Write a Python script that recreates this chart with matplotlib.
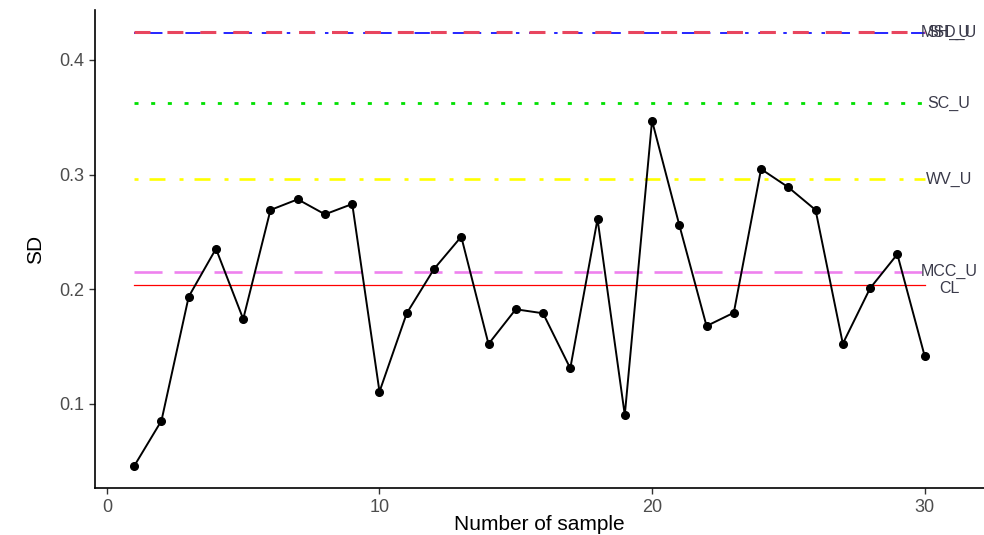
import matplotlib
matplotlib.use("Agg")
import matplotlib.pyplot as plt

plt.rcParams['font.family'] = ['Liberation Sans', 'DejaVu Sans']
plt.rcParams['lines.scale_dashes'] = False

samples = list(range(1, 31))
sd_values = [0.0459, 0.0854, 0.1936, 0.2354, 0.1741, 0.2692, 0.2785, 0.2654, 0.2744, 0.1107,
             0.1791, 0.2177, 0.2459, 0.1523, 0.1826, 0.1791, 0.1311, 0.2613, 0.0904, 0.3471,
             0.2561, 0.1680, 0.1796, 0.3049, 0.2890, 0.2692, 0.1526, 0.2009, 0.2306, 0.1421]

limit_names = ["SH_U", "MSD_U", "SC_U", "WV_U", "MCC_U", "CL"]
limit_values = [0.4244, 0.4238, 0.3622, 0.2962, 0.2154, 0.2038]
limit_colors = ["#E8455E", "#0000FF", "#00E000", "#FFFF00", "#EE82EE", "#FF0000"]

x_ticks = [0, 10, 20, 30]
y_ticks = [0.1, 0.2, 0.3, 0.4]

styles = {
    "SH_U": dict(lw=2.2, dashes=(11.5, 12.2), z=2.5),
    "MSD_U": dict(lw=1.2, dashes=(2.5, 7.0, 11.0, 7.0), z=2.2),
    "SC_U": dict(lw=2.0, dashes=(2.9, 9.1), z=2),
    "WV_U": dict(lw=1.9, dashes=(2.9, 7.9, 11.5, 10.1), z=2),
    "MCC_U": dict(lw=1.9, dashes=(20.2, 8.6), z=2),
    "CL": dict(lw=0.9, dashes=None, z=2),
}

fig = plt.figure(figsize=(9.84, 5.35), dpi=100)
ax = fig.add_axes([0.0965, 0.0879, 0.9035, 0.8934])

x0, x1 = samples[0], samples[-1]
for name, val, col in zip(limit_names, limit_values, limit_colors):
    st = styles[name]
    line, = ax.plot([x0, x1], [val, val], color=col, lw=st["lw"], zorder=st["z"])
    if st["dashes"] is not None:
        line.set_dashes(st["dashes"])

ax.plot(samples, sd_values, color='black', lw=1.4, marker='o', markersize=5.5, zorder=3)

label_x = 30.9
for name, val in zip(limit_names, limit_values):
    yoff = -0.003 if name == "CL" else 0.0
    ax.text(label_x, val + yoff, name, ha='center', va='center', fontsize=11.5,
            color='#3A3A4A', clip_on=False)

ax.set_xlim(-0.44, 32.18)
ax.set_ylim(0.02675, 0.4436)
ax.set_xticks(x_ticks)
ax.set_yticks(y_ticks)
ax.set_yticklabels([f"{v:.1f}" for v in y_ticks])
ax.tick_params(axis='both', colors='#333333', labelcolor='#4D4D4D', labelsize=13,
               length=4, width=1, direction='out', pad=4)
for s in ['top', 'right']:
    ax.spines[s].set_visible(False)
for s in ['left', 'bottom']:
    ax.spines[s].set_linewidth(1.2)
    ax.spines[s].set_color('black')

ax.set_xlabel("Number of sample", fontsize=15, labelpad=-1)
ax.set_ylabel("SD", fontsize=15, labelpad=10)

fig.savefig("out.png", dpi=100)
